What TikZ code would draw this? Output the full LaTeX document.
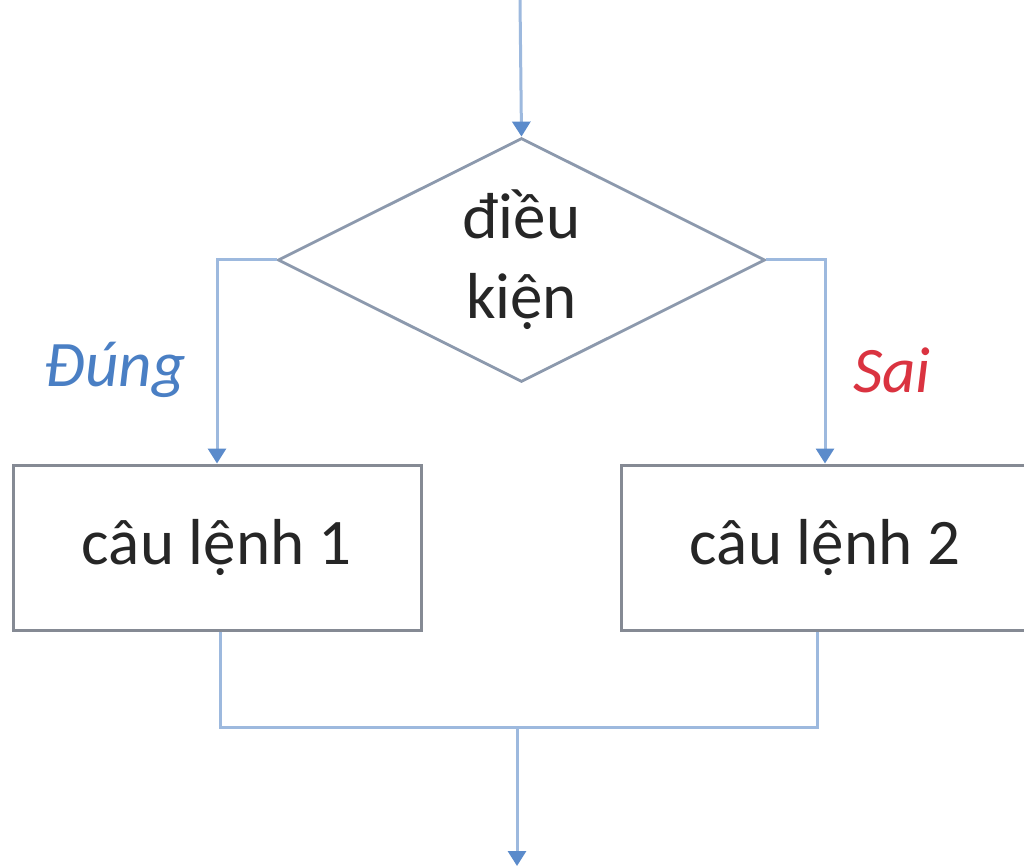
\documentclass[tikz,border=0pt]{standalone}
\usepackage{fontspec}
\setmainfont{Carlito}
\usetikzlibrary{shapes.geometric,arrows.meta}
\definecolor{conncol}{HTML}{9DB9DE}
\definecolor{tipcol}{HTML}{5B8BCB}
\definecolor{boxcol}{HTML}{858A94}
\definecolor{diacol}{HTML}{8C99AD}
\definecolor{truecol}{HTML}{4A7FC4}
\definecolor{falsecol}{HTML}{DA3340}
\tikzset{
  conn/.style={draw=conncol, line width=3pt},
  arr/.style={conn, -{Triangle[width=18pt,length=15pt,color=tipcol]}},
  stepbox/.style={draw=boxcol, line width=3pt, minimum width=408pt, minimum height=165pt, inner sep=0pt, font=\fontsize{65}{78}\selectfont, text=black!85},
  decision/.style={diamond, draw=diacol, line width=2.8pt, minimum width=487pt, minimum height=244pt, inner sep=0pt, aspect=2, align=center, font=\fontsize{65}{80}\selectfont, text=black!85},
  lbl/.style={font=\fontsize{65}{78}\selectfont\itshape}
}
\begin{document}
\begin{tikzpicture}[x=1pt,y=-1pt]
\useasboundingbox (0,0) rectangle (1024,866);
\clip (0,0) rectangle (1024,866);
\fill[white] (0,0) rectangle (1024,866);
\node[decision] (dia) at (521.5,260) {điều\\kiện};
\node[stepbox] (box1) at (217,547.5) {câu lệnh 1};
\node[stepbox] (box2) at (825,547.5) {câu lệnh 2};
\node[lbl, text=truecol] (yes) at (115,370) {Đúng};
\node[lbl, text=falsecol] (no) at (892,370) {Sai};
\coordinate (in) at (520,0);
\coordinate (merge) at (517,727);
\coordinate (out) at (517,866);
\draw[arr] (in) -- (dia.north);
\draw[arr] (dia.west) -| (box1.north);
\draw[arr] (dia.east) -| (box2.north);
\draw[conn] ([xshift=3pt]box1.south) |- (merge) -| ([xshift=-8pt]box2.south);
\draw[arr] (merge) -- (out);
\end{tikzpicture}
\end{document}
